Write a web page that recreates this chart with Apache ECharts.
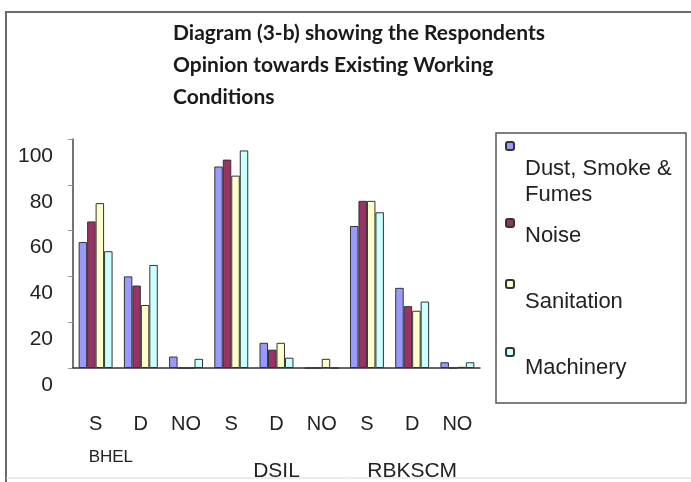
<!DOCTYPE html>
<html>
<head>
    <meta charset="UTF-8">
    <title>Working Conditions</title>
    <script src="https://cdn.jsdelivr.net/npm/echarts@6/dist/echarts.min.js"></script>
    <style>
        *{padding:0;margin:0}
        body{background:#fff}
        #chart{width:691px;height:482px}
    </style>
</head>
<body>
<div id="chart"></div>
<script>
    // categories (opinion) and the three units under them
    var categories = ['S', 'D', 'NO', 'S', 'D', 'NO', 'S', 'D', 'NO'];
    var groups = ['BHEL', 'DSIL', 'RBKSCM'];
    var seriesNames = ['Dust, Smoke & Fumes', 'Noise', 'Sanitation', 'Machinery'];
    var yTicks = [0, 20, 40, 60, 80, 100];

    // values (%)
    var dust = [55, 40, 5, 88, 11, 0, 62, 35, 2.5];
    var noise = [64, 36, 0, 91, 8, 0, 73, 27, 0];
    var sanitation = [72, 27.5, 0, 84, 11, 4, 73, 25, 0.5];
    var machinery = [51, 45, 4, 95, 4.5, 0, 68, 29, 2.5];

    var colors = ['#9999FF', '#993366', '#FFFFCC', '#CCFFFF'];
    var values = [dust, noise, sanitation, machinery];
    var font = 'Liberation Sans, Arial, sans-serif';

    var series = seriesNames.map(function (name, i) {
        return {
            name: name,
            type: 'bar',
            barGap: '0%',
            barCategoryGap: '25%',
            itemStyle: {color: colors[i], borderColor: '#333', borderWidth: 1},
            data: values[i]
        };
    });

    // one legend per item so each can sit where the picture has it;
    // an empty spacer line pushes the text below its little square
    var legendTops = [115, 205, 266, 334];
    var spacers = [72, 26, 36, 32];
    var legends = seriesNames.map(function (name, i) {
        return {
            data: [name],
            left: 505,
            top: legendTops[i],
            padding: 0,
            itemWidth: 8,
            itemHeight: 8,
            itemGap: 0,
            selectedMode: false,
            formatter: function (n) {
                var t = n === 'Dust, Smoke & Fumes' ? '{t|Dust, Smoke &}\n{t|Fumes}' : '{t|' + n + '}';
                return '{s| }\n' + t;
            },
            textStyle: {
                fontFamily: font, fontSize: 22, color: '#222',
                rich: {
                    s: {fontSize: 10, lineHeight: spacers[i]},
                    t: {fontFamily: font, fontSize: 22, lineHeight: 26, color: '#222', padding: [0, 0, 0, 6]}
                }
            }
        };
    });

    var option = {
        animation: false,
        title: {
            text: 'Diagram (3-b) showing the Respondents\nOpinion towards Existing Working\nConditions',
            left: 173,
            top: 17,
            padding: 0,
            textStyle: {fontFamily: 'Lato', fontWeight: 'bold', fontSize: 21, lineHeight: 32, color: '#1a1a1a'}
        },
        legend: legends,
        graphic: [
            {type: 'polyline', shape: {points: [[6, 482], [6, 12], [691, 12]]},
                style: {fill: null, stroke: '#6a6a6a', lineWidth: 2}},
            {type: 'line', shape: {x1: 6, y1: 478, x2: 691, y2: 478},
                style: {stroke: '#d8d8d8', lineWidth: 1}},
            {type: 'rect', shape: {x: 496, y: 133, width: 190, height: 270},
                style: {fill: null, stroke: '#555', lineWidth: 1.5}}
        ],
        grid: {left: 73, right: 211, top: 139, bottom: 113},
        xAxis: [
            {
                type: 'category',
                data: categories,
                position: 'bottom',
                axisLine: {lineStyle: {color: '#333', width: 1.5}},
                axisTick: {length: 50, lineStyle: {color: '#444', width: 1.2}},
                axisLabel: {fontFamily: font, fontSize: 20, color: '#222', margin: 46}
            },
            {
                type: 'category',
                data: groups,
                position: 'bottom',
                axisLine: {show: false},
                axisTick: {length: 100, lineStyle: {color: '#333', width: 1.5}},
                axisLabel: {
                    margin: 81,
                    formatter: function (v) {
                        return v === 'BHEL' ? '{a|' + v + '}' : '{b|' + v + '}';
                    },
                    rich: {
                        a: {fontFamily: font, fontSize: 17, color: '#222', padding: [0, 60, 0, 0]},
                        b: {fontFamily: font, fontSize: 21, color: '#222', padding: [12, 0, 0, 0]}
                    }
                }
            }
        ],
        yAxis: {
            type: 'value',
            min: yTicks[0],
            max: yTicks[yTicks.length - 1],
            interval: 20,
            splitLine: {show: false},
            axisLine: {show: true, lineStyle: {color: '#444', width: 1.5}},
            axisTick: {show: true, length: 5, lineStyle: {color: '#999'}},
            axisLabel: {fontFamily: font, fontSize: 21, color: '#222', margin: 20,
                verticalAlign: 'top', lineHeight: 34}
        },
        series: series
    };

    var chart = echarts.init(document.getElementById('chart'));
    chart.setOption(option);
</script>
</body>
</html>
